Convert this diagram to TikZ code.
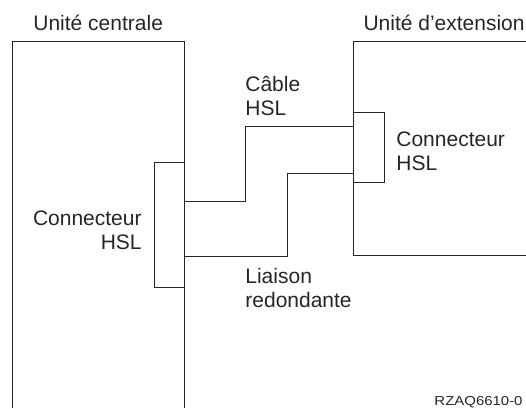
\documentclass[tikz,border=0pt]{standalone}
\usepackage{fontspec}
\setmainfont{Liberation Sans}
\usepackage{tikz}
\usetikzlibrary{positioning}

\begin{document}
\begin{tikzpicture}[
    x=1pt, y=-1pt,
    every node/.style={font=\fontsize{21}{24}\selectfont, inner sep=0pt},
    every path/.style={line width=0.8pt, black!85},
    conn/.style={rectangle, draw, minimum width=31pt},
  ]
  \useasboundingbox (0,0) rectangle (526,408);

  % the two units
  \draw (12.5,408) -- (12.5,41.5) -- (184.5,41.5) -- (184.5,408);
  \draw (526,41.5) -- (353,41.5) -- (353,255.5) -- (526,255.5);
  \node[anchor=base west] (cpu) at (33,30.5) {Unité centrale};
  \node[anchor=base east] (ext) at (525,30.5) {Unité d’extension};

  % HSL connectors
  \node[conn, minimum width=30.5pt, minimum height=125.5pt] (lconn) at (169.25,224.75) {};
  \node[conn, minimum height=70.5pt] (rconn) at (368.5,147.25) {};
  \node[anchor=base east, align=right] (lconnlabel) at (142,249) {Connecteur\\HSL};
  \node[anchor=base west, align=left] (rconnlabel) at (396,170) {Connecteur\\HSL};

  % cables
  \coordinate (cabup) at (245,126);
  \coordinate (redup) at (287,173);
  \draw ([yshift=23.75pt]lconn.east) -| (cabup) -- (rconn.west |- cabup);
  \draw ([yshift=-31.25pt]lconn.east) -| (redup) -- (rconn.west |- redup);
  \node[anchor=base west, align=left] (cablelabel) at (245,115) {Câble\\HSL};
  \node[anchor=base west, align=left] (redlabel) at (245,307) {Liaison\\redondante};

  \node[anchor=base east, font=\fontsize{13}{15}\selectfont, xscale=1.15, transform shape] (figid) at (523,405) {RZAQ6610-0};
\end{tikzpicture}
\end{document}
